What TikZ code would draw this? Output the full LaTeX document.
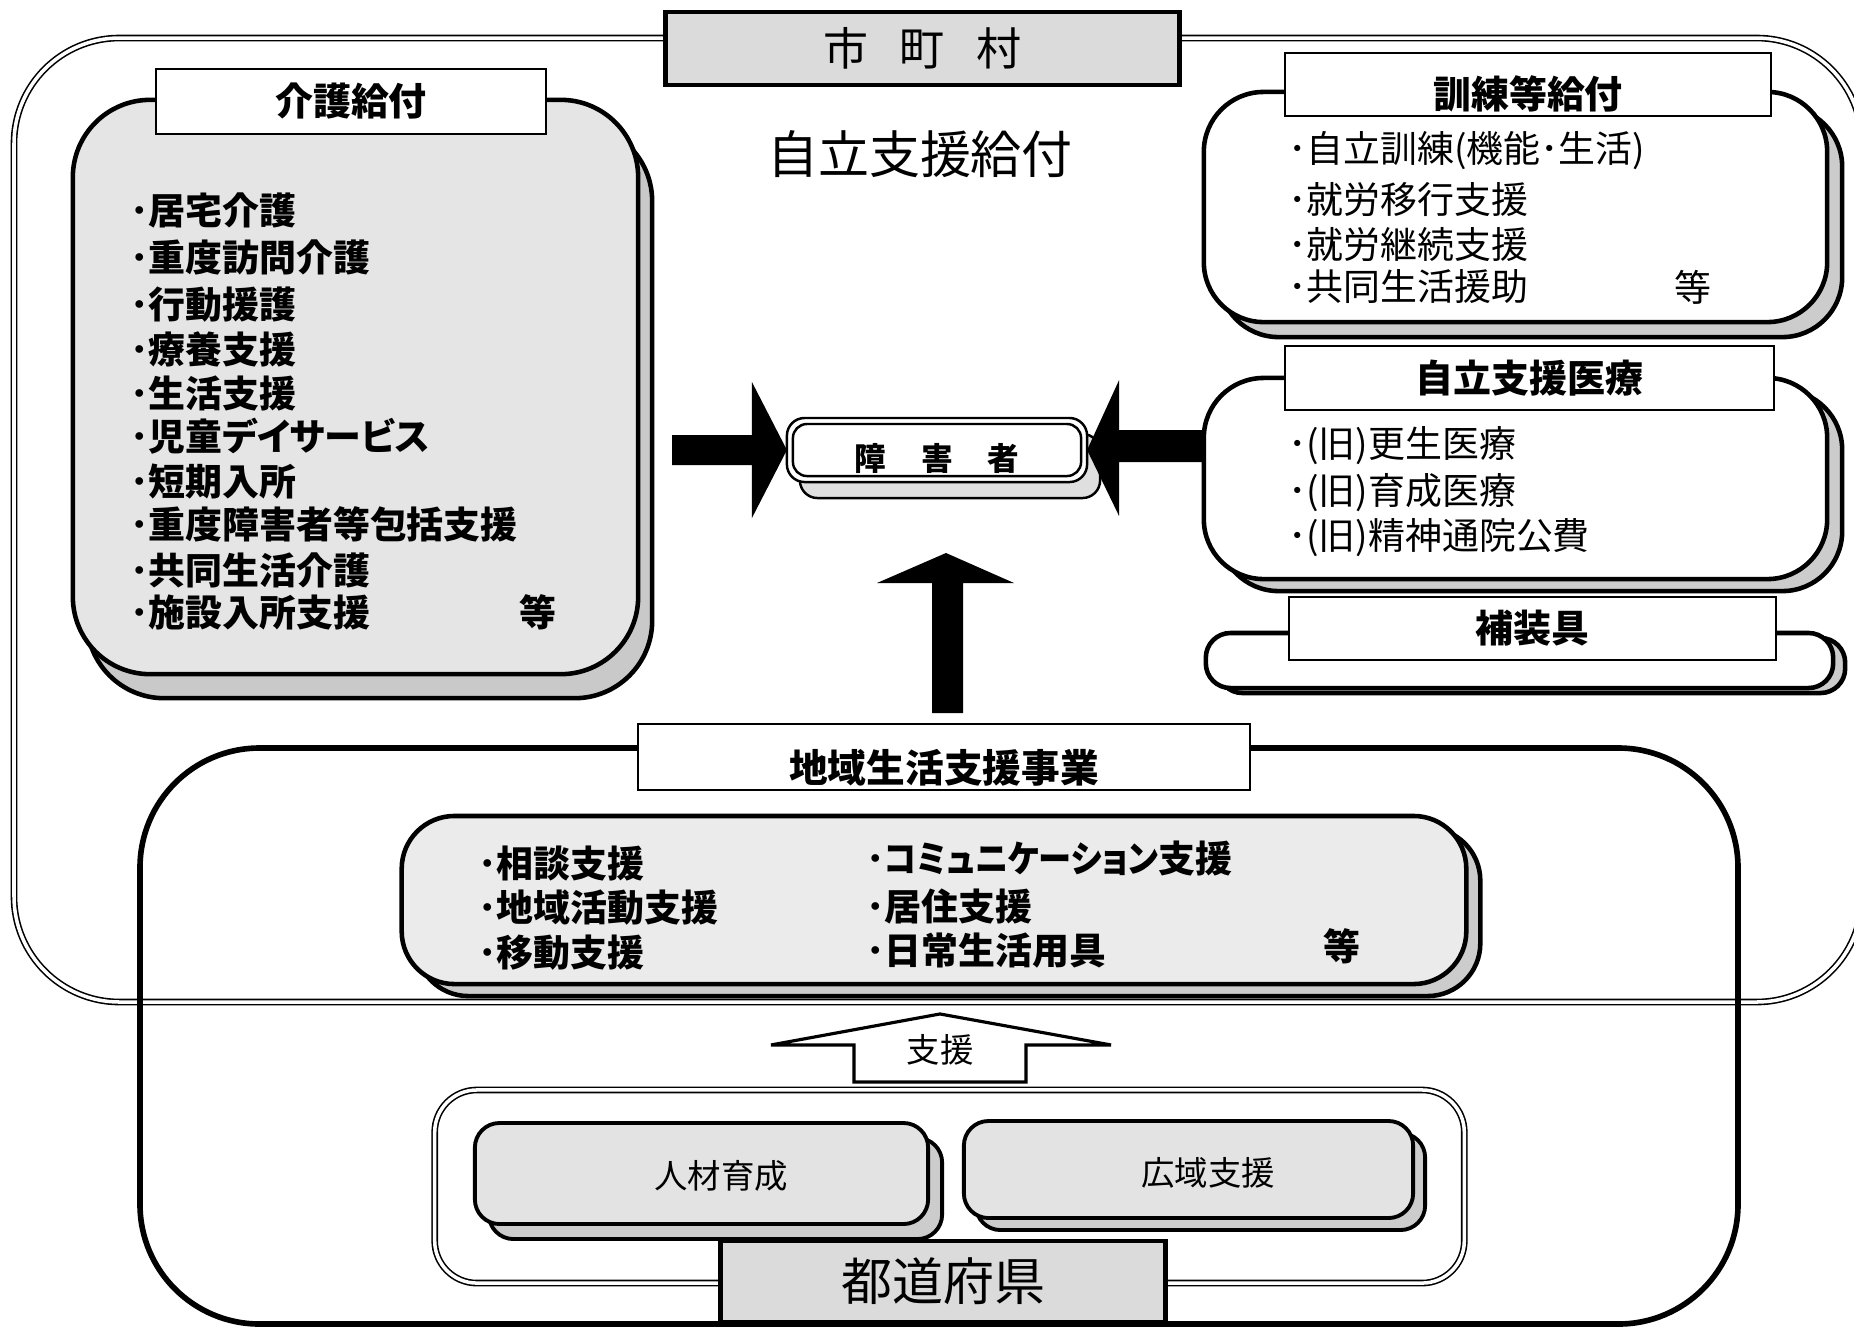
\documentclass[tikz,border=0pt]{standalone}
\usepackage{fontspec}
\usepackage{graphicx}
\setmainfont{Noto Sans CJK JP}
\newfontfamily\jpp[RawFeature=+palt]{Noto Sans CJK JP}
\usetikzlibrary{calc,shadows}
\begin{document}
\begin{tikzpicture}[x=0.01cm,y=-0.01cm,
  every node/.style={inner sep=0pt, outer sep=0pt},
  dbl/.style={draw, double, line width=0.45pt, double distance=1pt},
  labelbox/.style={draw, line width=0.6pt, fill=white},
  graylabel/.style={draw, line width=1.4pt, fill=gray!28},
  bitem/.style={anchor=west, font=\fontsize{10.5pt}{12pt}\selectfont\bfseries},
  ritem/.style={anchor=west, font=\fontsize{10.5pt}{12pt}\selectfont},
  ltxt/.style={font=\fontsize{10.8pt}{12pt}\selectfont\bfseries},
]
\useasboundingbox (0,0) rectangle (1854,1329);

% outer municipality frame
\draw[dbl, rounded corners=30pt] (14,38) rectangle (1862,1002);
% community support region
\draw[line width=1.6pt, rounded corners=34pt] (140,748) rectangle (1738,1324);

% ---------- care benefits ----------
\node[draw, line width=1.3pt, rounded corners=22pt, fill=gray!20,
  minimum width=5.65cm, minimum height=5.74cm,
  copy shadow={shadow xshift=0.14cm, shadow yshift=-0.24cm, fill=gray!42, draw, line width=1.3pt}]
  (kaigo) at (355.5,387) {};
\node[labelbox, minimum width=3.9cm, minimum height=0.65cm, ltxt] (kaigoL) at (351,101.5) {介護給付};
\node[bitem] (k1) at (130,210) {･居宅介護};
\node[bitem] (k2) at (130,257) {･重度訪問介護};
\node[bitem] (k3) at (130,305) {･行動援護};
\node[bitem] (k4) at (130,349) {･療養支援};
\node[bitem] (k5) at (130,393) {･生活支援};
\node[bitem] (k6) at (130,436) {･{\jpp 児童デイサービス}};
\node[bitem] (k7) at (130,481) {･短期入所};
\node[bitem] (k8) at (130,524) {･重度障害者等包括支援};
\node[bitem] (k9) at (130,570) {･共同生活介護};
\node[bitem] (k10) at (130,612) {･施設入所支援};
\node[bitem, anchor=center] (k11) at (538,612) {等};

% ---------- title ----------
\node[font=\fontsize{14.5pt}{16pt}\selectfont] (jiritsu) at (920,154) {自立支援給付};

% ---------- training benefits ----------
\node[draw, line width=1.3pt, rounded corners=17pt, fill=white,
  minimum width=6.23cm, minimum height=2.30cm,
  copy shadow={shadow xshift=0.15cm, shadow yshift=-0.15cm, fill=gray!40, draw, line width=1.3pt}]
  (kunren) at (1515.5,207) {};
\node[labelbox, minimum width=4.86cm, minimum height=0.63cm] (kunrenL) at (1528,84.5) {};
\node[ltxt] (kunrenT) at (1528,94) {訓練等給付};
\node[ritem] (t1) at (1288,151) {･自立訓練(機能･生活)};
\node[ritem] (t2) at (1288,199) {･就労移行支援};
\node[ritem] (t3) at (1288,244) {･就労継続支援};
\node[ritem] (t4) at (1288,287) {･共同生活援助};
\node[ritem, anchor=center] (t5) at (1693,287) {等};

% ---------- medical ----------
\node[draw, line width=1.3pt, rounded corners=17pt, fill=white,
  minimum width=6.23cm, minimum height=2.01cm,
  copy shadow={shadow xshift=0.15cm, shadow yshift=-0.12cm, fill=gray!40, draw, line width=1.3pt}]
  (iryo) at (1515.5,478.5) {};
\node[labelbox, minimum width=4.89cm, minimum height=0.64cm, ltxt] (iryoL) at (1529.5,378) {自立支援医療};
\node[ritem] (m1) at (1288,446) {･(旧)更生医療};
\node[ritem] (m2) at (1288,493) {･(旧)育成医療};
\node[ritem] (m3) at (1288,538) {･(旧)精神通院公費};

% ---------- devices ----------
\node[draw, line width=1.3pt, rounded corners=7pt, fill=white,
  minimum width=6.27cm, minimum height=0.55cm,
  copy shadow={shadow xshift=0.12cm, shadow yshift=-0.05cm, fill=gray!40, draw, line width=1.3pt}]
  (hosou) at (1519.5,660.5) {};
\node[labelbox, minimum width=4.87cm, minimum height=0.63cm, ltxt] (hosouL) at (1532.5,628.5) {補装具};

% ---------- person ----------
\node[draw, line width=0.7pt, rounded corners=5pt, fill=white,
  minimum width=3.00cm, minimum height=0.64cm,
  copy shadow={shadow xshift=0.13cm, shadow yshift=-0.16cm, fill=gray!25, draw, line width=0.7pt}]
  (shog) at (937,450) {};
\draw[line width=0.7pt, rounded corners=4pt] ($(shog.north west)+(6,6)$) rectangle ($(shog.south east)+(-6,-6)$);
\node[font=\fontsize{9pt}{10pt}\selectfont\bfseries] (shogT) at (937,458) {障\hspace{10pt}害\hspace{10pt}者};

% ---------- block arrows to person ----------
\path (kaigo.east) ++(34,0) coordinate (la0);
\coordinate (la) at (la0 |- shog.west);
\fill ($(la)+(0,-15)$) -- ($(shog.west)+(-35,-15)$) -- ($(shog.west)+(-35,-68)$) -- (shog.west)
  -- ($(shog.west)+(-35,68)$) -- ($(shog.west)+(-35,15)$) -- ($(la)+(0,15)$) -- cycle;
\coordinate (ra) at (iryo.west |- shog.east);
\fill ($(ra)+(0,-20)$) -- ($(shog.east)+(32,-20)$) -- ($(shog.east)+(32,-70)$) -- (shog.east)
  -- ($(shog.east)+(32,66)$) -- ($(shog.east)+(32,12)$) -- ($(ra)+(0,12)$) -- cycle;

% ---------- community life support ----------
\node[labelbox, minimum width=6.12cm, minimum height=0.66cm] (chiikiL) at (944,757) {};
\node[font=\fontsize{11pt}{12pt}\selectfont\bfseries] (chiikiT) at (944,768) {地域生活支援事業};
\fill ($(chiikiL.north)+(-12,-11)$) -- ($(chiikiL.north)+(-12,-141)$) -- ($(chiikiL.north)+(-67,-141)$)
  -- ($(chiikiL.north)+(2,-171)$) -- ($(chiikiL.north)+(70,-141)$) -- ($(chiikiL.north)+(19,-141)$)
  -- ($(chiikiL.north)+(19,-11)$) -- cycle;

\node[draw, line width=1.3pt, rounded corners=15pt, fill=gray!16,
  minimum width=10.64cm, minimum height=1.68cm,
  copy shadow={shadow xshift=0.14cm, shadow yshift=-0.12cm, fill=gray!40, draw, line width=1.3pt}]
  (chiiki) at (934,900) {};
\node[bitem] (c1) at (478,863) {･相談支援};
\node[bitem] (c2) at (478,908) {･地域活動支援};
\node[bitem] (c3) at (478,953) {･移動支援};
\node[bitem] (c4) at (866,858) {･\scalebox{0.9}[1]{\jpp コミュニケーション}支援};
\node[bitem] (c5) at (866,906) {･居住支援};
\node[bitem] (c6) at (866,951) {･日常生活用具};
\node[bitem, anchor=center] (c7) at (1342,946) {等};

% ---------- prefecture ----------
\node[dbl, rounded corners=12pt, minimum width=10.29cm, minimum height=1.93cm] (pref) at (949.5,1186.5) {};
\coordinate (sb) at ($(pref.north)+(-9.5,-8)$);
\draw[line width=0.9pt, fill=white] ($(sb)+(-86,0)$) -- ($(sb)+(-86,-37)$) -- ($(sb)+(-169,-37)$)
  -- ($(sb)+(0,-68)$) -- ($(sb)+(171,-37)$) -- ($(sb)+(86,-37)$) -- ($(sb)+(86,0)$) -- cycle;
\node[font=\fontsize{9.5pt}{10pt}\selectfont] (shien) at ($(sb)+(0,-32)$) {支援};

\node[draw, line width=1.1pt, rounded corners=7pt, fill=gray!22,
  minimum width=4.53cm, minimum height=1.01cm,
  copy shadow={shadow xshift=0.14cm, shadow yshift=-0.15cm, fill=gray!40, draw, line width=1.1pt}]
  (jinzai) at (701.5,1173.5) {};
\node[font=\fontsize{9.5pt}{10pt}\selectfont] (jinzaiT) at (721,1176) {人材育成};
\node[draw, line width=1.1pt, rounded corners=7pt, fill=gray!22,
  minimum width=4.49cm, minimum height=0.97cm,
  copy shadow={shadow xshift=0.12cm, shadow yshift=-0.12cm, fill=gray!40, draw, line width=1.1pt}]
  (kouiki) at (1188.5,1169.5) {};
\node[font=\fontsize{9.5pt}{10pt}\selectfont] (kouikiT) at (1208,1173) {広域支援};

\node[graylabel, minimum width=4.44cm, minimum height=0.81cm, font=\fontsize{14.5pt}{16pt}\selectfont]
  (prefL) at (943,1281.5) {都道府県};

% ---------- municipality label ----------
\node[graylabel, minimum width=5.13cm, minimum height=0.73cm, font=\fontsize{12.8pt}{14pt}\selectfont]
  (muniL) at (922.5,48.5) {市\hspace{9pt}町\hspace{9pt}村};
\end{tikzpicture}
\end{document}
